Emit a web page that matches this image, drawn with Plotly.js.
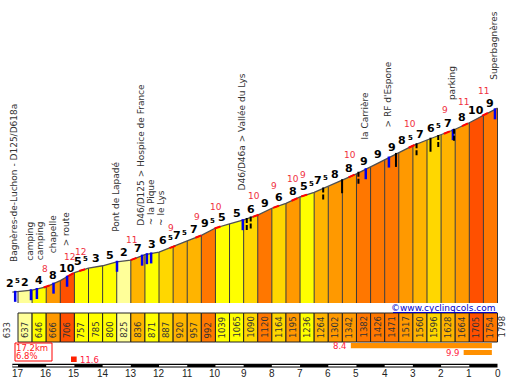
<!DOCTYPE html>
<html><head><meta charset="utf-8">
<script src="https://cdn.plot.ly/plotly-3.0.1.min.js"></script>
<style>html,body{margin:0;padding:0;background:#fff}#chart{width:510px;height:380px}</style>
</head><body><div id="chart"></div>
<script>
// ---- data ----
const distKm = [17.2,17,16.5,16,15.5,15,14.5,14,13.5,13,12.5,12,11.5,11,10.5,10,9.5,9,8.5,8,7.5,7,6.5,6,5.5,5,4.5,4,3.5,3,2.5,2,1.5,1,0.5,0];
const altitudes = [633,637,646,666,706,757,785,800,825,836,871,887,920,957,992,1039,1065,1090,1120,1164,1195,1236,1264,1302,1342,1382,1426,1471,1517,1560,1596,1628,1664,1705,1754,1798];
const gradeLabels = [2.5,2,4,8,10,5.5,3,5,2,7,3,6.5,7.5,7,9.5,5,5,6,9,6,8,5.5,7.5,8,8,9,9,9,8.5,7,6.5,7,8,10,9];
const maxGradeKm = [16.04,15.19,14.78,12.96,11.58,10.66,9.98,8.63,7.91,7.25,6.91,5.23,3.10,1.85,1.21,0.50];
const maxGradeVal = [8,12,12,11,9,9,10,10,9,10,9,10,10,9,11,11];
const placeKm = [17.1,16.54,15.74,15.26,13.49,12.60,9.03,4.67,3.85,1.58,0.09];
const placeNames = ["Bagnères-de-Luchon - D125/D618a","camping|camping","chapelle","> route","Pont de Lapadé","D46/D125 > Hospice de France|~ la Pique|~ le Lys","D46/D46a > Vallée du Lys","la Carrière","> RF d'Espone","parking","Superbagnères"];
const blueMarkKm = [17.1,16.54,16.33,15.74,15.26,13.49,12.60,12.43,12.28,9.03,4.67,3.85,1.58,0.09];
const blackMarkKm = [8.89,8.75,6.18,5.51,4.93,3.60,2.87,2.375,2.10,1.54];
const blackMarkDashed = [true,true,true,false,true,false,true,false,true,true];
const kmTicks = [17,16,15,14,13,12,11,10,9,8,7,6,5,4,3,2,1,0];
const totalKm = 17.2, avgGrade = 6.8;
const maxGrade = 11.6, maxGradeFrom = 15.12, maxGradeTo = 14.92;
const steepFrom = [5.2,1.2];
const steepTo = [0.2,0.2];
const steepVal = [8.4,9.9];

// ---- helpers ----
const W = 510, H = 380;
const yRange = [77, 2482];
const xRange = [17.638, -0.443];
const base = yRange[0] + (1 - 303/H)*(yRange[1]-yRange[0]);
const py = p => 1 - p/H;
function gradeColor(g){
  if(g<3) return '#FFFF99';
  if(g<6) return '#FFFF00';
  if(g<7) return '#FFD700';
  if(g<8) return '#FFB400';
  if(g<9) return '#FF9900';
  if(g<10) return '#FF7700';
  return '#FF5000';
}
function altAt(km){
  for(let i=0;i<distKm.length-1;i++){
    const a=distKm[i], b=distKm[i+1];
    if(km<=a && km>=b){ const f=(a-km)/(a-b); return altitudes[i]+f*(altitudes[i+1]-altitudes[i]); }
  }
  return km>distKm[0]?altitudes[0]:altitudes[altitudes.length-1];
}

const traces = [];
const shapes = [];
const ann = [];

// fills per segment (first short segment stays unfilled)
for(let i=1;i<distKm.length-1;i++){
  const d0=distKm[i], d1=distKm[i+1];
  traces.push({type:'scatter',mode:'lines',x:[d0,d0,d1,d1,d0],y:[base,altitudes[i],altitudes[i+1],base,base],
    fill:'toself',fillcolor:gradeColor(gradeLabels[i]),line:{width:0},hoverinfo:'skip'});
}
// dividers
const dx=[], dy=[];
for(let i=1;i<distKm.length;i++){ dx.push(distKm[i],distKm[i],null); dy.push(base,altitudes[i],null); }
traces.push({type:'scatter',mode:'lines',x:dx,y:dy,line:{color:'#3a3a3a',width:1},hoverinfo:'skip'});
// profile line
traces.push({type:'scatter',mode:'lines',x:distKm,y:altitudes,line:{color:'#505050',width:1.3},hoverinfo:'skip'});
// red steep bits
const rx=[], ry=[];
maxGradeKm.forEach(k=>{ const a=k+0.05,b=k-0.16; rx.push(a,b,null); ry.push(altAt(a),altAt(b),null); });
traces.push({type:'scatter',mode:'lines',x:rx,y:ry,line:{color:'#FF0000',width:2},hoverinfo:'skip'});

// markers
blueMarkKm.forEach(k=>{
  shapes.push({type:'line',xref:'x',yref:'y',ysizemode:'pixel',yanchor:altAt(k),x0:k,x1:k,y0:1,y1:-10,line:{color:'#0000EE',width:2.5}});
});
blackMarkKm.forEach((k,i)=>{
  shapes.push({type:'line',xref:'x',yref:'y',ysizemode:'pixel',yanchor:altAt(k),x0:k,x1:k,y0:1,y1:-13,line:{color:'#000',width:2,dash:blackMarkDashed[i]?'5px,2px':'solid'}});
});

// grade labels (half-percent shown as small raised 5)
const gFont = {family:'DejaVu Sans',size:11,color:'#000',weight:'bold'};
for(let i=0;i<gradeLabels.length;i++){
  const xc=(distKm[i]+distKm[i+1])/2, yc=(altitudes[i]+altitudes[i+1])/2;
  const g=gradeLabels[i], n=Math.floor(g), half=(g-n)>0.01;
  if(!half){
    ann.push({x:xc,y:yc,xref:'x',yref:'y',text:String(n),showarrow:false,yanchor:'bottom',xanchor:'center',font:gFont});
  } else {
    const sh = i===0 ? -2 : 0;
    ann.push({x:xc,y:yc,xref:'x',yref:'y',text:String(n),showarrow:false,yanchor:'bottom',xanchor:'right',xshift:2.5+sh,font:gFont});
    ann.push({x:xc,y:yc,xref:'x',yref:'y',text:'5',showarrow:false,yanchor:'bottom',xanchor:'left',xshift:1+sh,yshift:6,borderpad:0,
      font:{family:'DejaVu Sans',size:7,color:'#000',weight:'bold'}});
  }
}
// max grade labels (red)
maxGradeKm.forEach((k,i)=>{
  ann.push({x:k,y:altAt(k),xref:'x',yref:'y',text:String(maxGradeVal[i]),showarrow:false,yanchor:'middle',xanchor:'center',
    yshift:18+0.35*(17-k),font:{family:'DejaVu Sans',size:9,color:'#F03040'}});
});
// place names
placeKm.forEach((k,i)=>{
  placeNames[i].split('|').forEach((line,j)=>{
    ann.push({x:k,y:altAt(k),xref:'x',yref:'y',text:line,showarrow:false,textangle:-90,yanchor:'bottom',xanchor:'center',
      yshift:28,xshift:-1+9.6*j,font:{family:'DejaVu Sans',size:9,color:'#333'}});
  });
});

// bottom altitude boxes
for(let i=1;i<distKm.length-1;i++){
  shapes.push({type:'rect',xref:'x',yref:'paper',x0:distKm[i],x1:distKm[i+1],y0:py(342),y1:py(313),
    fillcolor:gradeColor(gradeLabels[i]),line:{color:'#222',width:1},layer:'above'});
  ann.push({x:(distKm[i]+distKm[i+1])/2,y:py(340),xref:'x',yref:'paper',text:String(altitudes[i]),showarrow:false,textangle:-90,
    yanchor:'bottom',xanchor:'center',font:{family:'DejaVu Sans',size:8.5,color:'#333'}});
}
ann.push({x:distKm[0],y:py(340),xref:'x',yref:'paper',text:String(altitudes[0]),showarrow:false,textangle:-90,xshift:-5,
  yanchor:'bottom',xanchor:'center',font:{family:'DejaVu Sans',size:8.5,color:'#333'}});
ann.push({x:distKm[distKm.length-1],y:py(340),xref:'x',yref:'paper',text:String(altitudes[altitudes.length-1]),showarrow:false,textangle:-90,xshift:4,
  yanchor:'bottom',xanchor:'center',font:{family:'DejaVu Sans',size:8.5,color:'#333'}});

// watermark
ann.push({x:497/W,y:py(308),xref:'paper',yref:'paper',text:'©www.cyclingcols.com',showarrow:false,xanchor:'right',yanchor:'middle',
  font:{family:'DejaVu Sans',size:9,color:'#0000CC'}});
shapes.push({type:'line',xref:'paper',yref:'paper',x0:393/W,x1:497/W,y0:py(312.5),y1:py(312.5),line:{color:'#0000CC',width:1}});

// total box
shapes.push({type:'rect',xref:'paper',yref:'paper',x0:15/W,x1:52/W,y0:py(361),y1:py(343),fillcolor:'#fff',line:{color:'#FF0000',width:1}});
ann.push({x:15/W,y:py(348),xref:'paper',yref:'paper',text:totalKm+'km',showarrow:false,xanchor:'left',yanchor:'middle',borderpad:0,
  font:{family:'DejaVu Sans',size:8.5,color:'#FF2020'}});
ann.push({x:15/W,y:py(355.5),xref:'paper',yref:'paper',text:avgGrade+'%',showarrow:false,xanchor:'left',yanchor:'middle',borderpad:0,
  font:{family:'DejaVu Sans',size:8.5,color:'#FF2020'}});
// max grade legend
shapes.push({type:'rect',xref:'x',yref:'paper',x0:maxGradeFrom,x1:maxGradeTo,y0:py(362),y1:py(356.5),fillcolor:'#FF2000',line:{width:0}});
ann.push({x:maxGradeTo,y:py(359.5),xref:'x',yref:'paper',text:String(maxGrade),showarrow:false,xanchor:'left',yanchor:'middle',xshift:1,
  font:{family:'DejaVu Sans',size:8.5,color:'#FF2040'}});
// steepest sections
const steepY = [[343,348.3],[350,355]];
steepVal.forEach((v,i)=>{
  shapes.push({type:'rect',xref:'x',yref:'paper',x0:steepFrom[i],x1:steepTo[i],y0:py(steepY[i][1]),y1:py(steepY[i][0]),fillcolor:'#FF9000',line:{width:0}});
  ann.push({x:steepFrom[i],y:py((steepY[i][0]+steepY[i][1])/2),xref:'x',yref:'paper',text:String(v),showarrow:false,xanchor:'right',yanchor:'middle',xshift:-2,
    font:{family:'DejaVu Sans',size:8.5,color:'#FF2040'}});
});
// scale bar
shapes.push({type:'rect',xref:'x',yref:'paper',x0:totalKm,x1:0,y0:py(367.5),y1:py(363.8),fillcolor:'#000',line:{width:0}});
for(let k=1;k<Math.ceil(totalKm);k+=2){
  const hi=Math.min(k+1,totalKm);
  shapes.push({type:'rect',xref:'x',yref:'paper',x0:hi,x1:k,y0:py(366.5),y1:py(365),fillcolor:'#fff',line:{width:0}});
}
kmTicks.forEach(k=>{
  ann.push({x:k,y:py(373),xref:'x',yref:'paper',text:String(k),showarrow:false,xanchor:'center',yanchor:'middle',
    font:{family:'Liberation Sans',size:10,color:'#222'}});
});

const layout = {
  width:W,height:H,margin:{l:0,r:0,t:0,b:0},paper_bgcolor:'#fff',plot_bgcolor:'#fff',showlegend:false,
  xaxis:{range:xRange,visible:false,fixedrange:true},
  yaxis:{range:yRange,visible:false,fixedrange:true},
  shapes:shapes,annotations:ann
};
Plotly.newPlot('chart',traces,layout,{staticPlot:true,displayModeBar:false});
</script></body></html>
